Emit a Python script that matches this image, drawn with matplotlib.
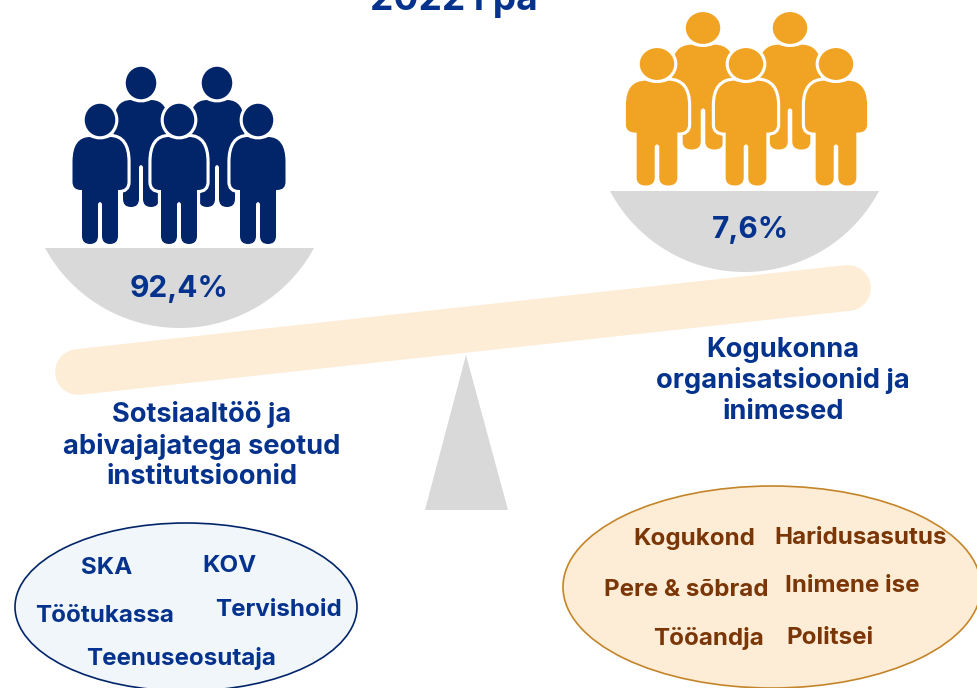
import matplotlib
matplotlib.use("Agg")
import matplotlib.pyplot as plt
import numpy as np
from matplotlib.patches import Ellipse, PathPatch, Polygon
from matplotlib.path import Path
from matplotlib.transforms import Affine2D

# Données
shares = ["92,4%", "7,6%"]
title = "2022 i pa"
left_label = ["Sotsiaaltöö ja", "abivajajatega seotud", "institutsioonid"]
right_label = ["Kogukonna", "organisatsioonid ja", "inimesed"]
left_items = ["SKA", "KOV", "Töötukassa", "Tervishoid", "Teenuseosutaja"]
right_items = ["Kogukond", "Haridusasutus", "Pere & sõbrad", "Inimene ise", "Tööandja", "Politsei"]

left_item_pos = [(107, 565), (229, 563), (105, 613), (278, 608), (181, 656)]
right_item_pos = [(694, 537), (861, 536), (686, 588), (852, 584), (708, 636), (830, 636)]
left_label_y = [412, 443, 474]
right_label_y = [347, 378, 409]

NAVY = "#02256A"
ORANGE = "#F1A423"
TEXT_BLUE = "#04328C"
BROWN = "#7A3606"
GREY = "#D9D9D9"
CREAM = "#FDEDD6"
FONT = "Inter"

fig = plt.figure(figsize=(9.77, 6.88), dpi=100)
ax = fig.add_axes([0, 0, 1, 1])
ax.set_xlim(0, 977)
ax.set_ylim(688, 0)
ax.axis("off")

M, L, C, Z = Path.MOVETO, Path.LINETO, Path.CURVE3, Path.CLOSEPOLY
body_pts = [(-10, 17), (-27.5, 17), (-27.5, 42), (-27.5, 62), (-27.5, 70), (-19, 70), (-18, 70),
            (-18, 116), (-18, 124), (-10, 124), (-2, 124), (-2, 116), (-2, 84), (0, 80), (2, 84),
            (2, 116), (2, 124), (10, 124), (18, 124), (18, 116), (18, 70), (19, 70),
            (27.5, 70), (27.5, 62), (27.5, 42), (27.5, 17), (10, 17), (0, 22), (-10, 17), (-10, 17)]
body_codes = [M, C, C, L, C, C, L, L, C, C, C, C, L, C, C, L, C, C, C, C, L, L, C, C, L, C, C, C, C, Z]
body_path = Path(body_pts, body_codes)


def person(cx, cy, sx, sy, color):
    tr = Affine2D().scale(sx, sy).translate(cx, cy) + ax.transData
    # contour blanc dessiné derrière pour garder la taille de la silhouette
    ax.add_patch(PathPatch(body_path, facecolor="white", edgecolor="white", lw=4.5, transform=tr))
    ax.add_patch(Ellipse((0, 0), 30.5, 32.5, facecolor="white", edgecolor="white", lw=4.5, transform=tr))
    ax.add_patch(PathPatch(body_path, facecolor=color, edgecolor="none", transform=tr))
    ax.add_patch(Ellipse((0, 0), 30.5, 32.5, facecolor=color, edgecolor="none", transform=tr))


def group(back, front, sx, sy, color):
    for cx, cy in back:
        person(cx, cy, sx, sy, color)
    for cx, cy in front:
        person(cx, cy, sx, sy, color)


def bowl(x0, y0, x1, y1, depth):
    half = (x1 - x0) / 2
    r = (half ** 2 + depth ** 2) / (2 * depth)
    a = np.arcsin(half / r)
    t = np.linspace(-a, a, 80)
    mid_y = (y0 + y1) / 2
    xs = (x0 + x1) / 2 + r * np.sin(t)
    ys = mid_y - (r - depth) + r * np.cos(t)
    ax.add_patch(Polygon(np.column_stack([xs, ys]), closed=True, facecolor=GREY, edgecolor="none"))


# Poutre et pied de la balance
ax.plot([78, 848], [372, 288], color=CREAM, lw=33, solid_capstyle="round", zorder=1)
ax.add_patch(Polygon([(466, 355), (425, 510), (508, 510)], facecolor=GREY, edgecolor="none", zorder=2))

# Plateaux et personnages
bowl(45, 248, 314, 248, 80)
bowl(610, 191, 879, 191, 81)
group([(141, 83), (217, 83)], [(100, 120), (179, 120), (258, 120)], 1.0, 1.0, NAVY)
group([(703, 28), (790, 28)], [(657, 64), (746, 64), (836, 64)], 1.13, 0.98, ORANGE)

ax.text(179, 286, shares[0], ha="center", va="center_baseline", fontsize=21.5, fontweight="bold",
        color=TEXT_BLUE, family=FONT)
ax.text(750, 227, shares[1], ha="center", va="center_baseline", fontsize=21.5, fontweight="bold",
        color=TEXT_BLUE, family=FONT)

ax.text(454, 10, title, ha="center", va="baseline", fontsize=26.7, fontweight="bold",
        color=TEXT_BLUE, family=FONT)

for line, y in zip(left_label, left_label_y):
    ax.text(202, y, line, ha="center", va="center_baseline", fontsize=19.6, fontweight="bold",
            color=TEXT_BLUE, family=FONT)
for line, y in zip(right_label, right_label_y):
    ax.text(783, y, line, ha="center", va="center_baseline", fontsize=19.6, fontweight="bold",
            color=TEXT_BLUE, family=FONT)

# Ellipses du bas
ax.add_patch(Ellipse((186, 607), 342, 168, facecolor="#F1F6FB", edgecolor=NAVY, lw=1.2))
ax.add_patch(Ellipse((772, 587), 418, 202, facecolor=CREAM, edgecolor="#C4852A", lw=1.2))

for name, (x, y) in zip(left_items, left_item_pos):
    ax.text(x, y, name, ha="center", va="center_baseline", fontsize=17.4, fontweight="bold",
            color=TEXT_BLUE, family=FONT)
for name, (x, y) in zip(right_items, right_item_pos):
    ax.text(x, y, name, ha="center", va="center_baseline", fontsize=17.4, fontweight="bold",
            color=BROWN, family=FONT)

fig.savefig("out.png", dpi=100)
